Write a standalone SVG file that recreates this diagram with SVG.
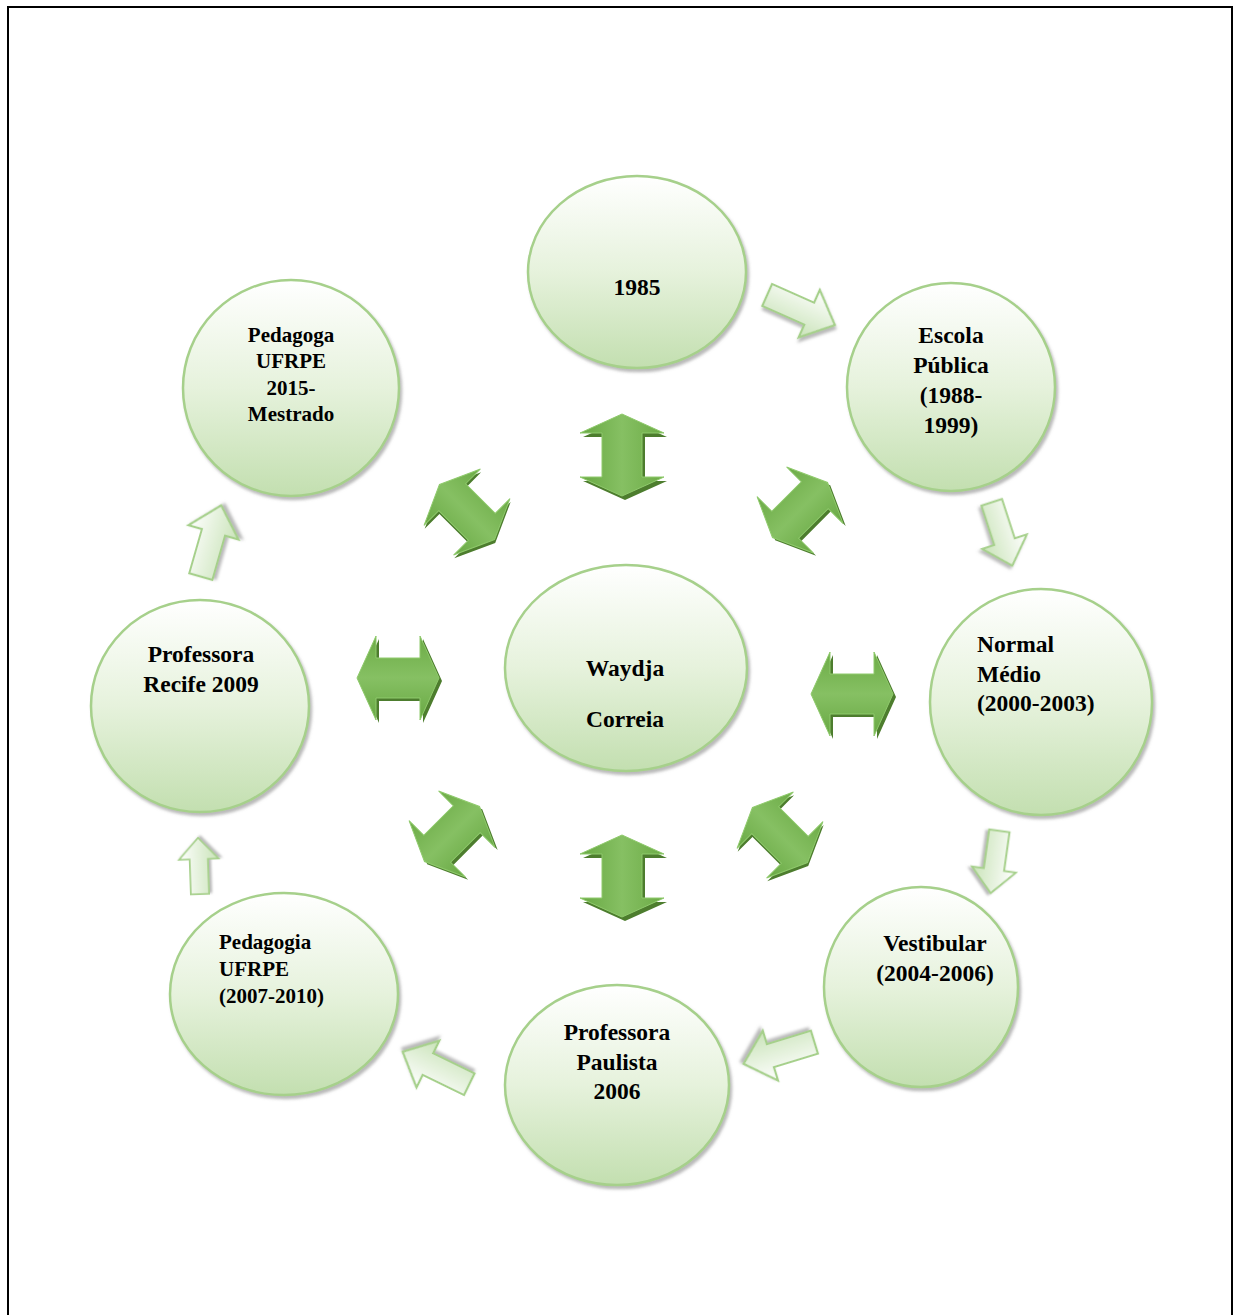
<svg xmlns="http://www.w3.org/2000/svg" width="1233" height="1315" viewBox="0 0 1233 1315">
<defs>
  <linearGradient id="gCircle" x1="0" y1="0" x2="0" y2="1">
    <stop offset="0" stop-color="#ffffff"/>
    <stop offset="0.5" stop-color="#e6f2dc"/>
    <stop offset="1" stop-color="#c3dfb0"/>
  </linearGradient>
  <linearGradient id="gLight" x1="0" y1="0" x2="0" y2="1">
    <stop offset="0" stop-color="#ffffff"/>
    <stop offset="1" stop-color="#c9e3b8"/>
  </linearGradient>
  <linearGradient id="gDark" x1="0" y1="0" x2="0" y2="1">
    <stop offset="0" stop-color="#6cab46"/>
    <stop offset="0.5" stop-color="#86c063"/>
    <stop offset="1" stop-color="#68a843"/>
  </linearGradient>
  <filter id="shadow" x="-10%" y="-10%" width="125%" height="125%">
    <feDropShadow dx="2" dy="3" stdDeviation="1.5" flood-color="#7f7f7f" flood-opacity="0.55"/>
  </filter>
  <polygon id="lightArrow" points="-37,-12 9,-12 9,-26 37,0 9,26 9,12 -37,12"/>
  <polygon id="darkArrow" points="-41,0 -22,-42 -22,-20 22,-20 22,-42 41,0 22,42 22,20 -22,20 -22,42"/>
</defs>
<style>
  .node ellipse { fill: url(#gCircle); stroke: #a6d08b; stroke-width: 2.5; filter: url(#shadow); }
  .lbl { font-family: "Liberation Serif", "Times New Roman", serif; font-weight: bold; font-size: 23.5px; fill: #000000; }
  .sm { font-size: 21px; }
  .c { text-anchor: middle; }
  .la { fill: url(#gLight); stroke: #a6d08b; stroke-width: 2.2; filter: url(#shadow); }
  .da-sh { fill: #4d7d2e; }
  .da { fill: url(#gDark); stroke: #8fca6c; stroke-width: 1; }
</style>
<rect x="0" y="0" width="1233" height="1315" fill="#ffffff"/>
<path d="M8,1320 V7 H1232 V1320" fill="none" stroke="#000000" stroke-width="2"/>

<g id="connectors">
  <!-- light single arrows (sequence) -->
  <g transform="translate(801,310) rotate(24)"><use href="#lightArrow" class="la"/></g>
  <g transform="translate(1002,534) rotate(72) scale(0.9)"><use href="#lightArrow" class="la"/></g>
  <g transform="translate(995,862) rotate(98) scale(0.85)"><use href="#lightArrow" class="la"/></g>
  <g transform="translate(779,1053) rotate(163)"><use href="#lightArrow" class="la"/></g>
  <g transform="translate(436,1068) rotate(-154)"><use href="#lightArrow" class="la"/></g>
  <g transform="translate(199,866) rotate(-92) scale(0.76)"><use href="#lightArrow" class="la"/></g>
  <g transform="translate(211,541) rotate(-74)"><use href="#lightArrow" class="la"/></g>

  <!-- dark double arrows (centre) -->
  <g transform="translate(622,455) rotate(90)"><use href="#darkArrow" class="da-sh" transform="translate(4,-3)"/><use href="#darkArrow" class="da"/></g>
  <g transform="translate(800,510) rotate(-45) scale(0.95)"><use href="#darkArrow" class="da-sh" transform="translate(0,4)"/><use href="#darkArrow" class="da"/></g>
  <g transform="translate(852,694)"><use href="#darkArrow" class="da-sh" transform="translate(3,3)"/><use href="#darkArrow" class="da"/></g>
  <g transform="translate(780,835) rotate(45) scale(0.95)"><use href="#darkArrow" class="da-sh" transform="translate(3,2)"/><use href="#darkArrow" class="da"/></g>
  <g transform="translate(622,876) rotate(90)"><use href="#darkArrow" class="da-sh" transform="translate(4,-3)"/><use href="#darkArrow" class="da"/></g>
  <g transform="translate(452,834) rotate(-45) scale(0.95)"><use href="#darkArrow" class="da-sh" transform="translate(0,4)"/><use href="#darkArrow" class="da"/></g>
  <g transform="translate(398,678)"><use href="#darkArrow" class="da-sh" transform="translate(3,3)"/><use href="#darkArrow" class="da"/></g>
  <g transform="translate(467,512) rotate(45) scale(0.95)"><use href="#darkArrow" class="da-sh" transform="translate(3,2)"/><use href="#darkArrow" class="da"/></g>
</g>

<g id="n1985" class="node">
  <ellipse cx="637" cy="272" rx="109" ry="96"/>
  <text class="lbl c" x="637" y="295">1985</text>
</g>
<g id="nEscola" class="node">
  <ellipse cx="951" cy="387" rx="104" ry="104"/>
  <text class="lbl c" x="951" y="343">Escola</text>
  <text class="lbl c" x="951" y="373">Pública</text>
  <text class="lbl c" x="951" y="403">(1988-</text>
  <text class="lbl c" x="951" y="433">1999)</text>
</g>
<g id="nNormal" class="node">
  <ellipse cx="1041" cy="702" rx="111" ry="113"/>
  <text class="lbl" x="977" y="652">Normal</text>
  <text class="lbl" x="977" y="682">Médio</text>
  <text class="lbl" x="977" y="711">(2000-2003)</text>
</g>
<g id="nVestibular" class="node">
  <ellipse cx="921" cy="987" rx="97" ry="100"/>
  <text class="lbl c" x="935" y="951">Vestibular</text>
  <text class="lbl c" x="935" y="981">(2004-2006)</text>
</g>
<g id="nPaulista" class="node">
  <ellipse cx="617" cy="1085" rx="112" ry="100"/>
  <text class="lbl c" x="617" y="1040">Professora</text>
  <text class="lbl c" x="617" y="1070">Paulista</text>
  <text class="lbl c" x="617" y="1099">2006</text>
</g>
<g id="nPedagogia" class="node">
  <ellipse cx="284" cy="994" rx="114" ry="101"/>
  <text class="lbl sm" x="219" y="949">Pedagogia</text>
  <text class="lbl sm" x="219" y="976">UFRPE</text>
  <text class="lbl sm" x="219" y="1003">(2007-2010)</text>
</g>
<g id="nRecife" class="node">
  <ellipse cx="200" cy="706" rx="109" ry="106"/>
  <text class="lbl c" x="201" y="662">Professora</text>
  <text class="lbl c" x="201" y="692">Recife 2009</text>
</g>
<g id="nPedagoga" class="node">
  <ellipse cx="291" cy="388" rx="108" ry="108"/>
  <text class="lbl sm c" x="291" y="342">Pedagoga</text>
  <text class="lbl sm c" x="291" y="368">UFRPE</text>
  <text class="lbl sm c" x="291" y="395">2015-</text>
  <text class="lbl sm c" x="291" y="421">Mestrado</text>
</g>
<g id="nCentro" class="node">
  <ellipse cx="626" cy="668" rx="121" ry="103"/>
  <text class="lbl c" x="625" y="676">Waydja</text>
  <text class="lbl c" x="625" y="727">Correia</text>
</g>
</svg>
